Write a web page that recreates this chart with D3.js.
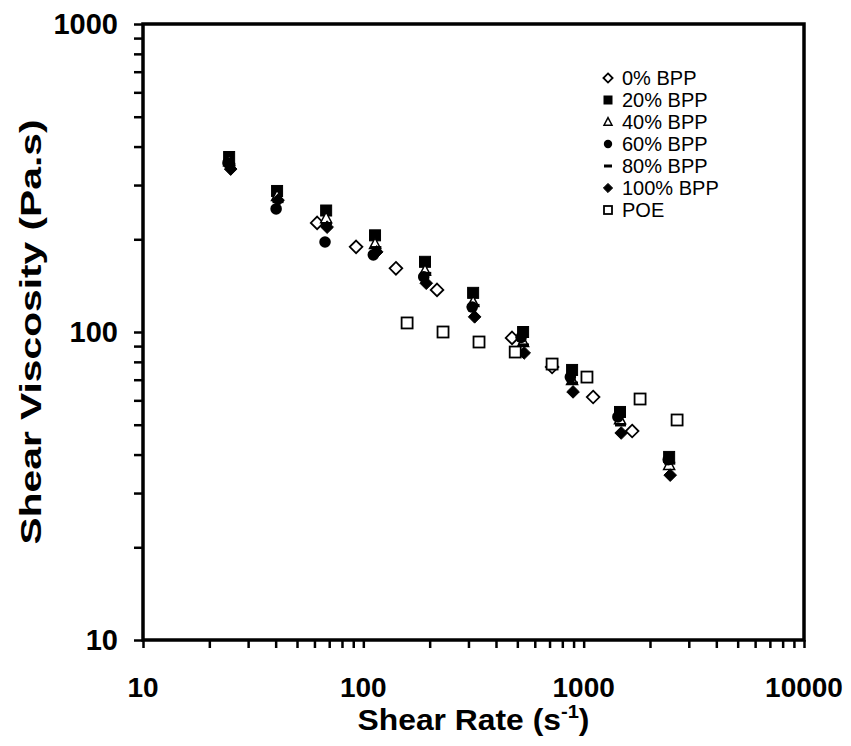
<!DOCTYPE html>
<html>
<head>
<meta charset="utf-8">
<script src="https://cdn.jsdelivr.net/npm/d3@7"></script>
<style>
  html, body { margin: 0; padding: 0; background: #fff; }
  svg { display: block; font-family: "Liberation Sans", Arial, sans-serif; }
</style>
</head>
<body>
<svg id="chart" width="851" height="746"></svg>
<script>
// Shear viscosity vs shear rate for BPP blends and POE (log-log)
const seriesNames = ["0% BPP", "20% BPP", "40% BPP", "60% BPP", "80% BPP", "100% BPP", "POE"];
const seriesMarkers = ["diamondOpen", "squareFilled", "triangleOpen", "circleFilled", "dash", "diamondFilled", "squareOpen"];

const bpp0Rate  = [61.7, 92.7, 140.6, 216, 473, 719, 1104, 1660];
const bpp0Visc  = [226, 189, 161, 137, 95.7, 77, 61.5, 47.7];

const bpp20Rate = [24.6, 40.6, 67.8, 113, 190.5, 315, 531, 886, 1462, 2443];
const bpp20Visc = [370, 287, 248, 206, 169, 134, 100, 75.3, 55.0, 39.3];

const bpp40Rate = [24.6, 40.6, 67.8, 113, 190.5, 315, 531, 886, 1462, 2443];
const bpp40Visc = [358, 276, 234, 193, 158, 125, 92.8, 69.8, 52, 37];

const bpp60Rate = [24.3, 40.2, 67, 111, 188, 312, 520, 870, 1430, 2420];
const bpp60Visc = [354, 251, 196, 178, 151, 120.5, 96, 71.4, 53, 38.5];

const bpp80Rate = [24.8, 41, 68, 114, 192, 318, 533, 890, 1470, 2460];
const bpp80Visc = [350, 265, 225, 188, 155, 122, 90.8, 68.3, 49.9, 37.5];

const bpp100Rate = [25, 41, 68.5, 115, 193, 320, 537, 895, 1480, 2470];
const bpp100Visc = [338, 268, 219, 182, 144, 112, 85.5, 63.9, 47.0, 34.3];

const poeRate = [158, 230, 335, 489, 719, 1035, 1803, 2655];
const poeVisc = [107, 100, 92.8, 86.1, 78.7, 71.4, 60.6, 51.8];

const xTickValues = [10, 100, 1000, 10000];
const yTickValues = [10, 100, 1000];

const seriesData = [
  [bpp0Rate, bpp0Visc], [bpp20Rate, bpp20Visc], [bpp40Rate, bpp40Visc],
  [bpp60Rate, bpp60Visc], [bpp80Rate, bpp80Visc], [bpp100Rate, bpp100Visc],
  [poeRate, poeVisc]
];

const svg = d3.select("#chart");
const margin = { left: 143, right: 851 - 804, top: 24, bottom: 746 - 640 };
const W = 851, H = 746;

const x = d3.scaleLog().domain([10, 10000]).range([margin.left, W - margin.right]);
const y = d3.scaleLog().domain([10, 1000]).range([H - margin.bottom, margin.top]);

// minor + major tick positions for each decade
function logTicks(lo, hi) {
  const t = [];
  for (let d = lo; d < hi; d *= 10) for (let k = 1; k < 10; k++) t.push(d * k);
  t.push(hi);
  return t;
}

// x axis (bottom)
const xAxis = d3.axisBottom(x).tickValues(logTicks(10, 10000)).tickSize(8).tickFormat("");
const gx = svg.append("g").attr("transform", `translate(0,${y(10)})`).call(xAxis);
gx.select(".domain").remove();
gx.selectAll(".tick line").attr("stroke", "#000").attr("stroke-width", 2.5);
svg.append("g").selectAll("text").data(xTickValues).join("text")
  .attr("x", d => x(d)).attr("y", y(10) + 57)
  .attr("text-anchor", "middle")
  .attr("font-size", 28).attr("font-weight", "bold")
  .text(d => d);

// y axis (left)
const yAxis = d3.axisLeft(y).tickValues(logTicks(10, 1000)).tickSize(9).tickFormat("");
const gy = svg.append("g").attr("transform", `translate(${x(10)},0)`).call(yAxis);
gy.select(".domain").remove();
gy.selectAll(".tick line").attr("stroke", "#000").attr("stroke-width", 2.5);
svg.append("g").selectAll("text").data(yTickValues).join("text")
  .attr("x", x(10) - 25).attr("y", d => y(d) + 10)
  .attr("text-anchor", "end")
  .attr("font-size", 29).attr("font-weight", "bold")
  .text(d => d);

// plot frame
svg.append("rect")
  .attr("x", x(10)).attr("y", y(1000))
  .attr("width", x(10000) - x(10)).attr("height", y(10) - y(1000))
  .attr("fill", "none").attr("stroke", "#000").attr("stroke-width", 3.5);

// axis titles
const xt = svg.append("text")
  .attr("x", (x(10) + x(10000)) / 2).attr("y", 730)
  .attr("text-anchor", "middle").attr("font-size", 30).attr("font-weight", "bold")
  .attr("textLength", 232).attr("lengthAdjust", "spacingAndGlyphs");
xt.append("tspan").text("Shear Rate (s");
xt.append("tspan").attr("font-size", 19).attr("dy", -12).text("-1");
xt.append("tspan").attr("dy", 12).text(")");

svg.append("text")
  .attr("transform", `translate(41,${(y(10) + y(1000)) / 2}) rotate(-90)`)
  .attr("text-anchor", "middle").attr("font-size", 29).attr("font-weight", "bold")
  .attr("textLength", 425).attr("lengthAdjust", "spacingAndGlyphs")
  .text("Shear Viscosity (Pa.s)");

// marker drawing
function drawMarker(g, type, s) {
  const h = s / 2;
  switch (type) {
    case "diamondOpen":
    case "diamondFilled": {
      const r = h * 1.15;
      g.append("path").attr("d", `M0,${-r}L${r},0L0,${r}L${-r},0Z`)
        .attr("fill", type === "diamondFilled" ? "#000" : "#fff")
        .attr("stroke", "#000").attr("stroke-width", type === "diamondFilled" ? 1 : 1.8);
      break;
    }
    case "squareFilled":
    case "squareOpen":
      g.append("rect").attr("x", -h).attr("y", -h).attr("width", s).attr("height", s)
        .attr("fill", type === "squareFilled" ? "#000" : "#fff")
        .attr("stroke", "#000").attr("stroke-width", type === "squareFilled" ? 1 : 1.8);
      break;
    case "triangleOpen":
      g.append("path").attr("d", `M0,${-h * 1.1}L${h},${h * 0.8}L${-h},${h * 0.8}Z`)
        .attr("fill", "#fff").attr("stroke", "#000").attr("stroke-width", 1.5);
      break;
    case "circleFilled":
      g.append("circle").attr("r", h * 1.05).attr("fill", "#000");
      break;
    case "dash":
      g.append("rect").attr("x", -h).attr("y", -1.5).attr("width", s).attr("height", 3).attr("fill", "#000");
      break;
  }
}

// data points
seriesData.forEach(([rates, viscs], i) => {
  const g = svg.append("g").attr("class", "series");
  rates.forEach((r, j) => {
    const m = g.append("g").attr("transform", `translate(${x(r)},${y(viscs[j])})`);
    drawMarker(m, seriesMarkers[i], 11);
  });
});

// legend
const legend = svg.append("g").attr("transform", "translate(608,78)");
seriesNames.forEach((name, i) => {
  const row = legend.append("g").attr("transform", `translate(0,${i * 22})`);
  drawMarker(row.append("g"), seriesMarkers[i], 8);
  row.append("text").attr("x", 14).attr("y", 7).attr("font-size", 20).text(name);
});
</script>
</body>
</html>
